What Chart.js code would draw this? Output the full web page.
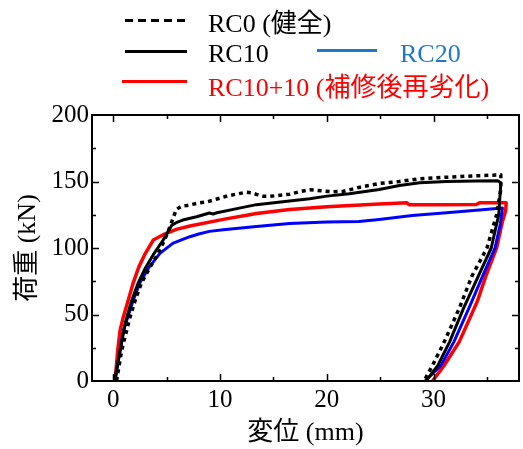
<!DOCTYPE html>
<html>
<head>
<meta charset="utf-8">
<script src="https://cdn.jsdelivr.net/npm/chart.js@4.4.1/dist/chart.umd.min.js"></script>
<style>
  html, body { margin: 0; padding: 0; background: #fff; }
  #wrap { position: relative; width: 523px; height: 449px; }
  #chart { position: absolute; left: 0; top: 0; }
  .lg-line { position: absolute; height: 3px; }
  .lg-text { position: absolute; font-family: 'Liberation Serif', 'Noto Sans CJK JP', serif; font-size: 26px; line-height: 26px; white-space: nowrap; }
</style>
</head>
<body>
<div id="wrap">
  <canvas id="chart" width="523" height="449"></canvas>

  <div class="lg-line" style="left:125px; top:19px; width:62px; background: repeating-linear-gradient(90deg, #000 0 8px, transparent 8px 13px);"></div>
  <div class="lg-text" style="left:208px; top:11px; color:#000;">RC0 (健全)</div>

  <div class="lg-line" style="left:125px; top:50px; width:62px; background:#000;"></div>
  <div class="lg-text" style="left:208px; top:41px; color:#000;">RC10</div>

  <div class="lg-line" style="left:317px; top:49px; width:60px; background:#1f78c8;"></div>
  <div class="lg-text" style="left:400px; top:41px; color:#1f78c8;">RC20</div>

  <div class="lg-line" style="left:122px; top:80px; width:65px; background:#ff0000;"></div>
  <div class="lg-text" style="left:208px; top:75px; color:#ff0000;">RC10+10 (補修後再劣化)</div>
</div>

<script>
// 荷重-変位 curves (x: mm, y: kN), loading then unloading
const rc0X = [0.3, 0.78, 1.56, 2.1, 2.65, 3.4, 4.2, 4.8, 5.3, 5.9, 6.4, 6.9, 8.1, 8.7, 9.7, 10.6, 11.5, 12.5, 13.0, 13.4, 14.0, 14.6, 16.5, 17.5, 18.4, 19.5, 20.5, 21.5, 23.0, 24.9, 26.8, 28.7, 31.2, 34.0, 36.3,
              36.3, 35.9, 35.0, 33.6, 32.4, 31.0, 29.9, 29.1];
const rc0Y = [0, 23, 48, 62, 74, 85, 96, 106, 116, 129, 131.5, 132, 134, 134.5, 136.8, 138.9, 140.5, 142, 141.5, 140.3, 139, 138.8, 140.4, 142.5, 143.8, 143, 142.3, 142.5, 145.5, 148.5, 150, 152, 153.2, 154.3, 155,
              144, 125, 100, 79, 54.6, 29.4, 11.8, 0];

const rc10X = [0.1, 0.45, 0.8, 1.16, 1.7, 2.34, 3.0, 3.74, 4.67, 5.46, 6.0, 6.5, 7.8, 9.0, 9.35, 9.7, 11.8, 13.4, 16.5, 18.4, 20.0, 22.1, 24.9, 26.8, 28.7, 31.2, 34.0, 36.0, 36.3,
               36.1, 35.4, 34.2, 32.8, 31.5, 30.4, 29.3];
const rc10Y = [0, 15, 30, 45, 60, 74, 85, 95, 106, 117, 119.5, 121, 123.5, 126.3, 125.6, 126.5, 130, 132.6, 135.3, 137, 139, 140.8, 144, 147, 149, 150, 150.4, 150.6, 149,
               125, 100, 79, 54.6, 29.4, 11.8, 0];

const rc20X = [0.16, 0.63, 0.93, 1.35, 1.87, 2.5, 3.3, 4.36, 5.6, 7.17, 8.0, 9.0, 10.3, 13.4, 16.5, 20.0, 23.0, 24.9, 28.0, 31.2, 34.0, 36.45,
               36.25, 35.75, 34.6, 33.3, 31.9, 30.7, 29.2];
const rc20Y = [0, 23, 38, 48, 61, 74, 85, 96, 103.7, 108.5, 110.5, 112.5, 113.8, 116.2, 118.5, 119.5, 120, 121.5, 124.5, 126.5, 128.3, 130,
               118, 100, 79, 54.6, 29.4, 11.8, 0];

const rc1010X = [0.16, 0.41, 0.63, 0.93, 1.4, 1.87, 2.4, 3.0, 3.74, 4.67, 5.9, 7.17, 10.3, 13.4, 16.5, 20.0, 24.9, 27.5, 27.7, 30.0, 34.0, 34.3, 36.8,
                 36.75, 36.45, 35.9, 34.9, 34.1, 33.8, 32.4, 31.0, 29.9];
const rc1010Y = [0, 23, 38, 48, 61, 74, 86, 96, 106, 110, 114, 116.5, 121.5, 126, 129, 131, 133, 134, 132.5, 132.5, 132.7, 134, 134,
                 128, 120, 100, 79, 60, 54.6, 29.4, 11.8, 0];

const xTicks = [0, 10, 20, 30];
const yTicks = [0, 50, 100, 150, 200];

const pts = (xs, ys) => xs.map((x, i) => ({ x, y: ys[i] }));
const FONT = "'Liberation Serif', 'Noto Sans CJK JP', serif";

// frame + inward ticks on all four sides
const framePlugin = {
  id: 'frame',
  afterDatasetsDraw(chart) {
    const { ctx, chartArea: a, scales: { x, y } } = chart;
    ctx.save();
    ctx.strokeStyle = '#000';
    ctx.lineWidth = 2;
    ctx.strokeRect(a.left, a.top, a.right - a.left, a.bottom - a.top);
    ctx.lineWidth = 1.5;
    ctx.beginPath();
    for (let v = 0; v <= 35; v += 5) {
      const px = Math.round(x.getPixelForValue(v)) + 0.5;
      const len = v % 10 === 0 ? 7 : 4;
      ctx.moveTo(px, a.bottom); ctx.lineTo(px, a.bottom - len);
      ctx.moveTo(px, a.top); ctx.lineTo(px, a.top + len);
    }
    for (let v = 25; v < 200; v += 25) {
      const py = Math.round(y.getPixelForValue(v)) + 0.5;
      const len = v % 50 === 0 ? 7 : 4;
      ctx.moveTo(a.left, py); ctx.lineTo(a.left + len, py);
      ctx.moveTo(a.right, py); ctx.lineTo(a.right - len, py);
    }
    ctx.stroke();
    ctx.restore();
  }
};

new Chart(document.getElementById('chart'), {
  type: 'scatter',
  data: {
    datasets: [
      { label: 'RC0 (健全)', data: pts(rc0X, rc0Y), borderColor: '#000', borderWidth: 3.5, borderDash: [4, 4] },
      { label: 'RC10', data: pts(rc10X, rc10Y), borderColor: '#000', borderWidth: 3 },
      { label: 'RC20', data: pts(rc20X, rc20Y), borderColor: '#0000ff', borderWidth: 3 },
      { label: 'RC10+10 (補修後再劣化)', data: pts(rc1010X, rc1010Y), borderColor: '#ff0000', borderWidth: 3.5 }
    ].map(d => Object.assign(d, { showLine: true, pointRadius: 0, fill: false, tension: 0, borderJoinStyle: 'round' }))
  },
  options: {
    responsive: false,
    animation: false,
    events: [],
    layout: { padding: { top: 115, right: 4, left: 0, bottom: 0 } },
    plugins: { legend: { display: false }, tooltip: { enabled: false } },
    scales: {
      x: {
        type: 'linear', min: -2, max: 38,
        grid: { display: false, drawTicks: false },
        border: { display: false },
        afterBuildTicks: s => { s.ticks = xTicks.map(v => ({ value: v })); },
        afterFit: s => { s.height = 68; },
        ticks: { color: '#000', padding: 4, font: { family: FONT, size: 25 } },
        title: { display: true, text: '変位 (mm)', color: '#000', padding: { top: 0, bottom: 0 }, font: { family: FONT, size: 26 } }
      },
      y: {
        type: 'linear', min: 0, max: 200,
        grid: { display: false, drawTicks: false },
        border: { display: false },
        afterBuildTicks: s => { s.ticks = yTicks.map(v => ({ value: v })); },
        afterFit: s => { s.width = 92; },
        ticks: { color: '#000', padding: 3, font: { family: FONT, size: 25 } },
        title: { display: true, text: '荷重 (kN)', color: '#000', padding: { top: 13, bottom: 0 }, font: { family: FONT, size: 26 } }
      }
    }
  },
  plugins: [framePlugin]
});
</script>
</body>
</html>
